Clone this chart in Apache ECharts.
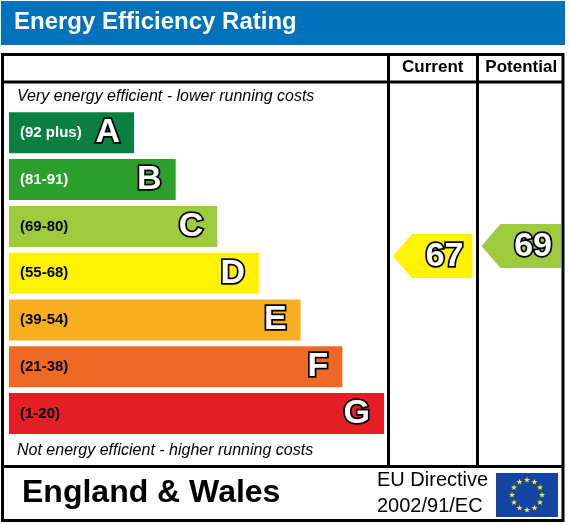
<!DOCTYPE html>
<html>
<head>
<meta charset="utf-8">
<script src="https://cdn.jsdelivr.net/npm/echarts@6/dist/echarts.min.js"></script>
<style>
    html, body { margin: 0; padding: 0; background: #fff; }
    #chart { width: 569px; height: 525px; }
</style>
</head>
<body>
<div id="chart"></div>
<script>
// rating bands, best first
var bands = ['A', 'B', 'C', 'D', 'E', 'F', 'G'];
var bandRanges = ['(92 plus)', '(81-91)', '(69-80)', '(55-68)', '(39-54)', '(21-38)', '(1-20)'];
var bandMin = [92, 81, 69, 55, 39, 21, 1];
var bandLength = [3, 4, 5, 6, 7, 8, 9];
var columns = ['Current', 'Potential'];
var ratings = [67, 69];

var bandColors = ['#0c8040', '#2c9f2d', '#9dcb3c', '#fff200', '#f8ae1e', '#ee6a24', '#e31e25'];
var bandTextColors = ['#fff', '#fff', '#000', '#000', '#000', '#000', '#000'];

var titleText = 'Energy Efficiency Rating';
var topNote = 'Very energy efficient - lower running costs';
var bottomNote = 'Not energy efficient - higher running costs';
var regionText = 'England & Wales';
var directiveLines = ['EU Directive', '2002/91/EC'];

var FONT = '"Liberation Sans", Arial, sans-serif';

function bandOf(v) {
    for (var i = 0; i < bandMin.length; i++) {
        if (v >= bandMin[i]) return i;
    }
    return bandMin.length - 1;
}

// 5 point star polygon for the EU flag
function starPoints(cx, cy, R, r) {
    var pts = [];
    for (var i = 0; i < 10; i++) {
        var a = -Math.PI / 2 + i * Math.PI / 5;
        var rad = i % 2 === 0 ? R : r;
        pts.push([cx + rad * Math.cos(a), cy + rad * Math.sin(a)]);
    }
    return pts;
}

var graphics = [
    {type: 'rect', shape: {x: 1, y: 1, width: 564, height: 44}, style: {fill: '#0072bb'}},
    {type: 'text', style: {text: titleText, x: 14, y: 22, verticalAlign: 'middle', fill: '#fff',
        font: 'bold 24px ' + FONT}},
    // frame
    {type: 'rect', shape: {x: 2.5, y: 54.5, width: 560.5, height: 466}, style: {fill: 'none', stroke: '#000', lineWidth: 3}, z: 10},
    {type: 'line', shape: {x1: 2.5, y1: 82, x2: 563, y2: 82}, style: {stroke: '#000', lineWidth: 3}, z: 10},
    {type: 'line', shape: {x1: 2.5, y1: 466.5, x2: 563, y2: 466.5}, style: {stroke: '#000', lineWidth: 3}, z: 10},
    {type: 'line', shape: {x1: 388.5, y1: 54.5, x2: 388.5, y2: 466.5}, style: {stroke: '#000', lineWidth: 3}, z: 10},
    {type: 'line', shape: {x1: 477.5, y1: 54.5, x2: 477.5, y2: 466.5}, style: {stroke: '#000', lineWidth: 3}, z: 10},
    {type: 'text', style: {text: topNote, x: 17, y: 96.5, verticalAlign: 'middle', fill: '#000',
        font: 'italic 16px ' + FONT}},
    {type: 'text', style: {text: bottomNote, x: 17, y: 451, verticalAlign: 'middle', fill: '#000',
        font: 'italic 16px ' + FONT}},
    {type: 'text', style: {text: regionText, x: 22, y: 493, verticalAlign: 'middle', fill: '#000',
        font: 'bold 32px ' + FONT}},
    {type: 'text', style: {text: directiveLines[0], x: 377, y: 480.5, verticalAlign: 'middle', fill: '#000',
        font: '20px ' + FONT}},
    {type: 'text', style: {text: directiveLines[1], x: 377, y: 506, verticalAlign: 'middle', fill: '#000',
        font: '20px ' + FONT}},
    {type: 'rect', shape: {x: 496, y: 473, width: 62, height: 44}, style: {fill: '#1346a3'}}
];
for (var s = 0; s < 12; s++) {
    var ang = s * Math.PI / 6;
    graphics.push({
        type: 'polygon',
        shape: {points: starPoints(527 + 15 * Math.sin(ang), 495 - 15 * Math.cos(ang), 3.2, 1.3)},
        style: {fill: '#ffed00'}
    });
}

var option = {
    animation: false,
    backgroundColor: '#fff',
    graphic: graphics,
    grid: [
        {left: 9, top: 109.4, width: 375, height: 327.6},
        {left: 388.5, top: 91, width: 177, height: 350}
    ],
    xAxis: [
        {type: 'value', gridIndex: 0, min: 0, max: 9, show: false},
        {
            type: 'category', gridIndex: 1, data: columns, position: 'top',
            axisLine: {show: false}, axisTick: {show: false}, splitLine: {show: false},
            axisLabel: {
                interval: 0, hideOverlap: false,
                margin: 23.5, verticalAlign: 'middle', color: '#000',
                fontFamily: FONT, fontWeight: 'bold', fontSize: 17
            }
        }
    ],
    yAxis: [
        {
            type: 'category', gridIndex: 0, data: bands, inverse: true,
            axisLine: {show: false}, axisTick: {show: false}, splitLine: {show: false},
            axisLabel: {
                inside: true, margin: 11, interval: 0,
                fontFamily: FONT, fontWeight: 'bold', fontSize: 15,
                formatter: function (v, i) { return bandRanges[i]; },
                color: function (v, i) { return bandTextColors[i]; }
            },
            z: 5
        },
        {type: 'value', gridIndex: 1, min: 30, max: 100, show: false}
    ],
    series: [
        {
            type: 'bar',
            xAxisIndex: 0, yAxisIndex: 0,
            barWidth: 41,
            data: bandLength.map(function (v, i) {
                return {value: v, itemStyle: {color: bandColors[i]}};
            }),
            label: {
                show: true, position: 'insideRight', distance: 14,
                formatter: function (p) { return bands[p.dataIndex]; },
                fontFamily: FONT, fontWeight: 'bold', fontSize: 34,
                color: '#fff', textBorderColor: '#000', textBorderWidth: 3.5
            }
        },
        {
            type: 'custom',
            xAxisIndex: 1, yAxisIndex: 1,
            data: ratings.map(function (v, i) { return [i, v]; }),
            renderItem: function (params, api) {
                var c = api.coord([api.value(0), api.value(1)]);
                var band = api.size([1, 0])[0];
                var half = band / 2 - 4.5;
                var h = 22, tip = 19;
                var l = c[0] - half, r = c[0] + half;
                var v = api.value(1);
                return {
                    type: 'group',
                    children: [
                        {
                            type: 'polygon',
                            shape: {points: [[l, c[1]], [l + tip, c[1] - h], [r, c[1] - h], [r, c[1] + h], [l + tip, c[1] + h]]},
                            style: {fill: bandColors[bandOf(v)]}
                        },
                        {
                            type: 'text',
                            style: {
                                text: String(v), x: r - 9, y: c[1] + 1, align: 'right', verticalAlign: 'middle',
                                font: 'bold 34px ' + FONT, fill: '#fff', stroke: '#000', lineWidth: 3.5, strokeFirst: true
                            }
                        }
                    ]
                };
            }
        }
    ]
};

var myChart = echarts.init(document.getElementById('chart'));
myChart.setOption(option);
</script>
</body>
</html>
